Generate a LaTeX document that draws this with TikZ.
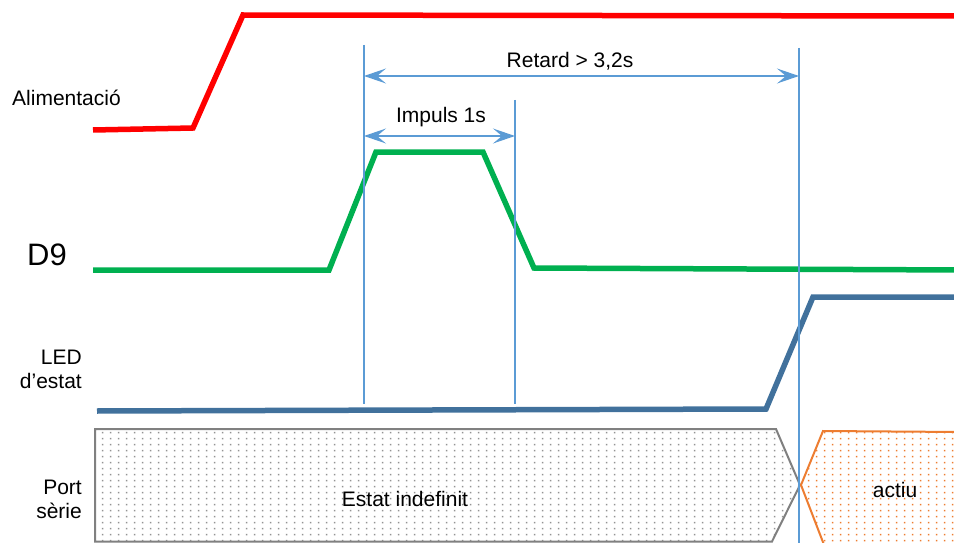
\documentclass[tikz,border=0pt]{standalone}
\usepackage{fontspec}
\setmainfont{Liberation Sans}
\usetikzlibrary{arrows.meta,patterns.meta}

% regular dot grid used for the serial-port states
\pgfdeclarepattern{
  name=griddots, type=uncolored,
  bottom left={\pgfpoint{0pt}{0pt}}, top right={\pgfpoint{8.4pt}{6pt}},
  tile size={\pgfpoint{8.4pt}{6pt}},
  code={
    \pgfpathrectangle{\pgfpoint{2pt}{2pt}}{\pgfpoint{1.7pt}{1.7pt}}
    \pgfusepath{fill}
  }}

\definecolor{sigred}{HTML}{FF0000}
\definecolor{siggreen}{HTML}{00B050}
\definecolor{sigblue}{HTML}{41719C}
\definecolor{markblue}{HTML}{5B9BD5}
\definecolor{busgray}{HTML}{808080}
\definecolor{busorange}{HTML}{ED7D31}

\tikzset{
  signal/.style={line width=5.5pt, line join=miter},
  marker/.style={markblue, line width=1.6pt},
  dimline/.style={markblue, line width=1.6pt,
    {Stealth[length=22pt,width=15pt,inset=9pt]}-{Stealth[length=22pt,width=15pt,inset=9pt]}},
  txt/.style={font=\fontsize{21}{24}\selectfont, inner sep=0pt},
  bus/.style={line width=2pt, line join=miter},
}

\begin{document}
\begin{tikzpicture}[x=1pt,y=-1pt]
\clip (0,0) rectangle (954,543);

% signal traces
\draw[signal, sigred] (93,130) -- (193,128) -- (243,15) -- (960,16);
\draw[signal, siggreen] (93,270) -- (329,270) -- (376,152) -- (483,152) -- (534,268) -- (960,270);
\draw[signal, sigblue] (97,411) -- (766,409) -- (813,297) -- (960,297);

% serial port states
\draw[bus, busgray, pattern=griddots, pattern color=busgray!85]
  (95,429) -- (776,429) -- (800,485) -- (772,541.5) -- (95,541.5) -- cycle;
\fill[pattern=griddots, pattern color=busorange]
  (823,431) -- (960,432) -- (960,550) -- (826,550) -- (801,485) -- cycle;
\draw[bus, busorange] (960,432) -- (823,431) -- (801,485) -- (826,550);

% row labels
\node[txt, anchor=base west] (lblpower) at (12,106) {Alimentació};
\node[txt, font=\fontsize{31}{36}\selectfont, anchor=base west] (lbld9) at (27,265) {D9};
\node[txt, anchor=base east, align=right] (lblled) at (82,388) {LED\\d’estat};
\node[txt, anchor=base east, align=right] (lblport) at (82,518) {Port\\sèrie};
\node[txt, anchor=base] (lblundef) at (405,506) {Estat indefinit};
\node[txt, anchor=base] (lblactive) at (895,497) {actiu};

% time markers
\coordinate (m1top) at (364,45);  \coordinate (m1bot) at (364,404);
\coordinate (m2top) at (515,100); \coordinate (m2bot) at (515,404);
\coordinate (m3top) at (799,48);  \coordinate (m3bot) at (799,545);
\draw[marker] (m1top) -- (m1bot);
\draw[marker] (m2top) -- (m2bot);
\draw[marker] (m3top) -- (m3bot);

% durations
\coordinate (d1a) at (364,76);  \coordinate (d1b) at (799,76);
\coordinate (d2a) at (364,136); \coordinate (d2b) at (515,136);
\draw[dimline] (d1a) -- (d1b);
\draw[dimline] (d2a) -- (d2b);
\node[txt, anchor=base] (lbldelay) at (570,67) {Retard > 3,2s};
\node[txt, anchor=base] (lblpulse) at (441,123) {Impuls 1s};
\end{tikzpicture}
\end{document}
